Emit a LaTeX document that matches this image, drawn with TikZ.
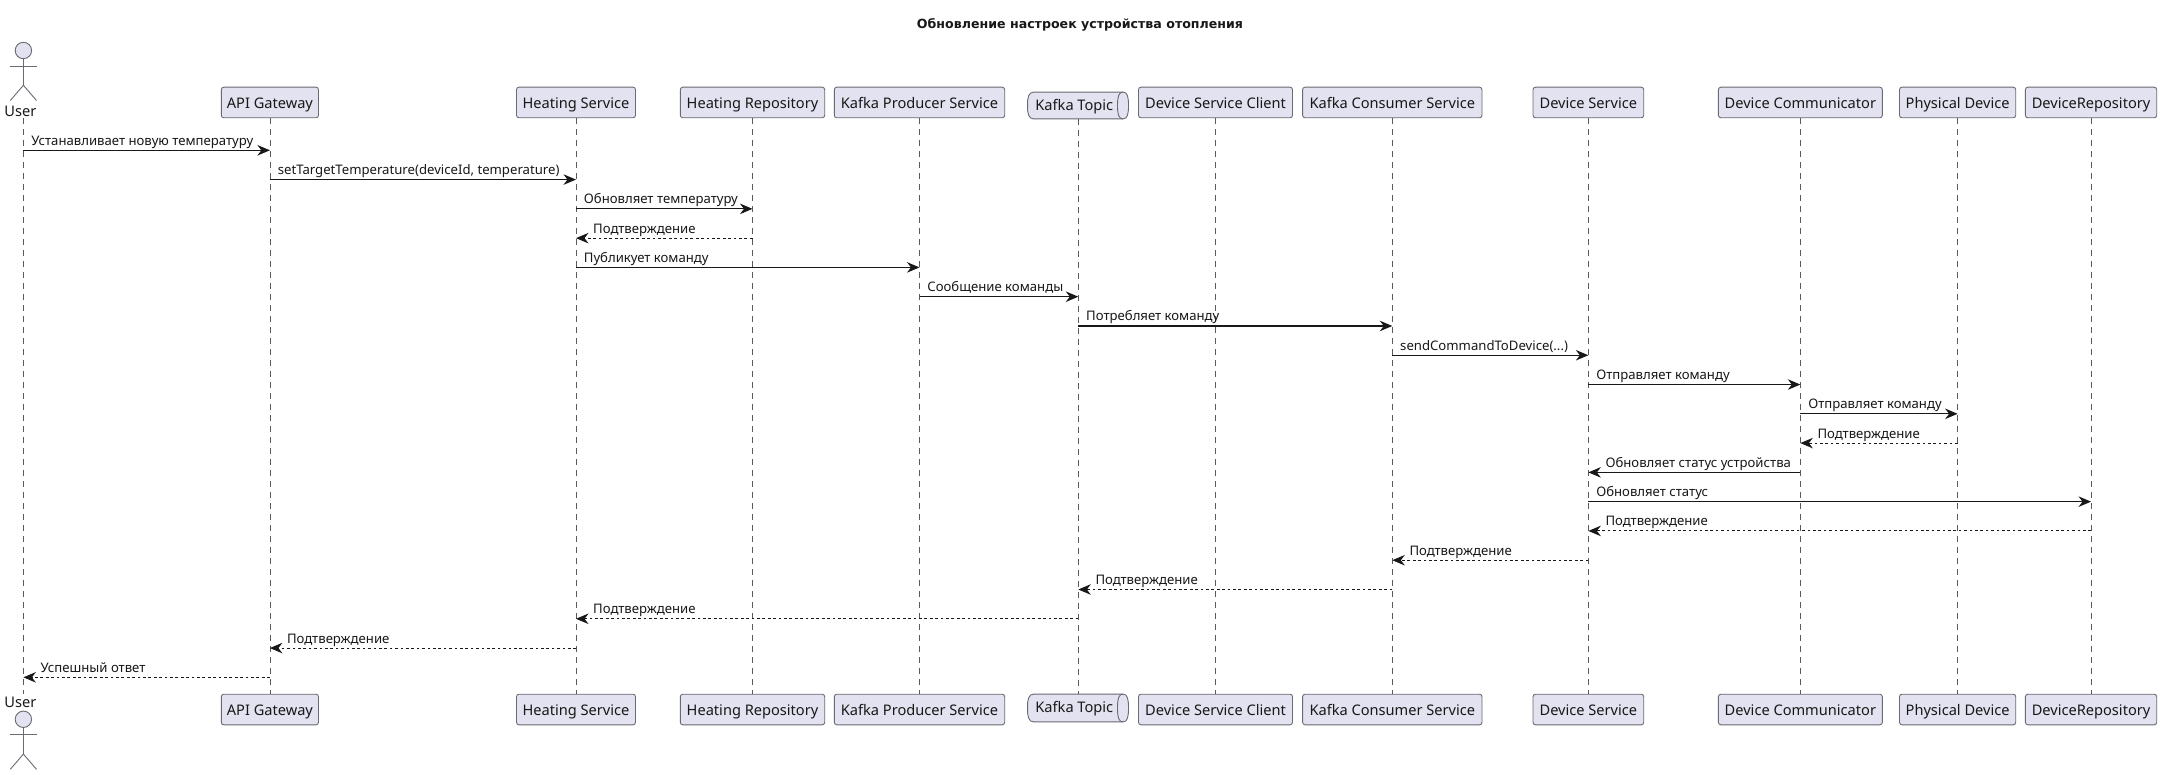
\documentclass[tikz,border=0pt]{standalone}
\usepackage{fontspec}
\setmainfont{Noto Sans}
\newfontfamily\titlefont{DejaVu Sans}
\usetikzlibrary{arrows.meta}
\definecolor{ink}{HTML}{181818}
\definecolor{boxfill}{HTML}{E2E2F0}
\definecolor{edge}{HTML}{6A6A72}
\definecolor{lifeink}{HTML}{5A5A5A}
\tikzset{
  part/.style={draw=edge,fill=boxfill,line width=0.9pt,rounded corners=2.5pt,minimum height=30.6pt,inner sep=0pt,text=ink,
    text height=13.6pt,text depth=2pt,font=\fontsize{14.6}{18}\selectfont},
  plain/.style={text=ink,inner sep=0pt,text height=13.6pt,text depth=2pt,font=\fontsize{14.6}{18}\selectfont},
  lbl/.style={text=ink,inner sep=0pt,font=\fontsize{13.15}{16}\selectfont,anchor=base west},
  life/.style={draw=lifeink,line width=0.55pt,dash pattern=on 5.8pt off 5.2pt},
  msg/.style={draw=ink,line width=1.1pt,-{Stealth[length=12.5pt,width=10.5pt,inset=4pt]}},
  ret/.style={draw=ink,line width=1pt,dash pattern=on 2.7pt off 2.7pt,-{Stealth[length=12.5pt,width=10.5pt,inset=4pt]}},
  act/.style={draw=edge,line width=0.9pt},
  queue/.style={draw=edge,fill=boxfill,line width=0.9pt},
}
\newcommand{\pbox}[5]{% name, left, right, ycentre, text
  \pgfmathsetmacro{\boxw}{#3-#2}
  \node[part,minimum width=\boxw pt] (#1) at ({(#2+#3)/2},#4) {#5};}
% style, from, to, row, text
\newcommand{\rmsg}[5]{%
  \pgfmathsetmacro{\rowy}{150.3+(#4-1)*29.28}
  \coordinate (ma) at (#2 |- 0,\rowy);
  \coordinate (mb) at (#3 |- 0,\rowy);
  \draw[#1] (ma) -- (mb);
  \node[lbl] at ([xshift=7.7pt,yshift=5pt]ma) {#5};}
\newcommand{\lmsg}[5]{%
  \pgfmathsetmacro{\rowy}{150.3+(#4-1)*29.28}
  \coordinate (ma) at (#2 |- 0,\rowy);
  \coordinate (mb) at (#3 |- 0,\rowy);
  \draw[#1] (ma) -- (mb);
  \node[lbl] at ([xshift=17pt,yshift=5pt]mb) {#5};}
% cylinder outline around a named node
\newcommand{\queueshape}[1]{%
  \draw[queue] ([xshift=5.5pt]#1.north west)
     .. controls ([xshift=1pt]#1.north west) and ([xshift=-1pt,yshift=-5pt]#1.north west) .. ([xshift=-0.5pt]#1.west)
     .. controls ([xshift=-1pt,yshift=5pt]#1.south west) and ([xshift=1pt]#1.south west) .. ([xshift=5.5pt]#1.south west)
     -- ([xshift=-5.5pt]#1.south east)
     .. controls ([xshift=-1pt]#1.south east) and ([yshift=5pt]#1.south east) .. (#1.east)
     .. controls ([yshift=-5pt]#1.north east) and ([xshift=-1pt]#1.north east) .. ([xshift=-5.5pt]#1.north east)
     -- cycle;
  \draw[queue,fill=none] ([xshift=-5.5pt]#1.north east)
     .. controls ([xshift=-10pt]#1.north east) and ([xshift=-11pt,yshift=-5pt]#1.north east) .. ([xshift=-11pt]#1.east)
     .. controls ([xshift=-11pt,yshift=5pt]#1.south east) and ([xshift=-10pt]#1.south east) .. ([xshift=-5.5pt]#1.south east);}
\newcommand{\actor}[2]{% head centre y, name
  \node[draw=edge,fill=boxfill,line width=0.9pt,circle,inner sep=0pt,minimum size=16.4pt] (#2) at (23.4,#1) {};
  \coordinate (#2s) at ([yshift=-15.6pt]#2.center);
  \coordinate (#2h) at ([yshift=-34.8pt]#2.center);
  \draw[act] (#2.south) -- (#2h);
  \draw[act] ([xshift=-13.1pt]#2s) -- ([xshift=13.1pt]#2s);
  \draw[act] ([xshift=-13.1pt,yshift=-15.2pt]#2h) -- (#2h) -- ([xshift=13.1pt,yshift=-15.2pt]#2h);}
\begin{document}
\begin{tikzpicture}[x=1pt,y=-1pt]
\useasboundingbox (0,0) rectangle (2161,775);
\fill[white] (0,0) rectangle (2161,775);
\node[text=ink,font=\titlefont\fontsize{12.6}{15}\selectfont\bfseries] (title) at (1080,24.5) {Обновление настроек устройства отопления};
% lifeline ends of the actor
\coordinate (user) at (23.4,118);
\coordinate (userb) at (23.4,694);
% invisible frames of the queue
\node[minimum width=100pt,minimum height=26.4pt,inner sep=0pt] (topic) at (1078.3,105.5) {};
\node[minimum width=100pt,minimum height=27.4pt,inner sep=0pt] (topicb) at (1078.3,708) {};
% top participants
\pbox{api}{221.3}{318.5}{102.5}{API Gateway}
\pbox{heat}{516.5}{635.5}{102.5}{Heating Service}
\pbox{hrepo}{680.3}{824.7}{102.5}{Heating Repository}
\pbox{prod}{834.3}{1004.7}{102.5}{Kafka Producer Service}
\pbox{dsc}{1138.5}{1292.5}{102.5}{Device Service Client}
\pbox{cons}{1302.6}{1482}{102.5}{Kafka Consumer Service}
\pbox{dev}{1533}{1643.7}{102.5}{Device Service}
\pbox{comm}{1718.4}{1882.3}{102.5}{Device Communicator}
\pbox{phys}{1899.5}{2015.7}{102.5}{Physical Device}
\pbox{drepo}{2025.4}{2156.7}{102.5}{DeviceRepository}
% bottom participants
\pbox{apib}{221.3}{318.5}{709.5}{API Gateway}
\pbox{heatb}{516.5}{635.5}{709.5}{Heating Service}
\pbox{hrepob}{680.3}{824.7}{709.5}{Heating Repository}
\pbox{prodb}{834.3}{1004.7}{709.5}{Kafka Producer Service}
\pbox{dscb}{1138.5}{1292.5}{709.5}{Device Service Client}
\pbox{consb}{1302.6}{1482}{709.5}{Kafka Consumer Service}
\pbox{devb}{1533}{1643.7}{709.5}{Device Service}
\pbox{commb}{1718.4}{1882.3}{709.5}{Device Communicator}
\pbox{physb}{1899.5}{2015.7}{709.5}{Physical Device}
\pbox{drepob}{2025.4}{2156.7}{709.5}{DeviceRepository}
% lifelines
\draw[life] (user) -- (userb);
\foreach \p in {api,heat,hrepo,prod,dsc,cons,dev,comm,phys,drepo}
  \draw[life] (\p.south) -- (\p b.north);
\draw[life] (topic.south) -- (topicb.north);
% queues
\queueshape{topic}
\queueshape{topicb}
\node[plain] (topiclabel) at (1074.3,105.2) {Kafka Topic};
\node[plain] (topicblabel) at (1074.3,707) {Kafka Topic};
% actors
\actor{50.5}{userhead}
\node[plain] (userlabel) at (20.4,110.6) {User};
\node[plain] (userblabel) at (20.4,701.6) {User};
\actor{719.3}{userheadb}
% messages
\rmsg{msg}{user}{api}{1}{Устанавливает новую температуру}
\rmsg{msg}{api}{heat}{2}{setTargetTemperature(deviceId, temperature)}
\rmsg{msg}{heat}{hrepo}{3}{Обновляет температуру}
\lmsg{ret}{hrepo}{heat}{4}{Подтверждение}
\rmsg{msg}{heat}{prod}{5}{Публикует команду}
\rmsg{msg}{prod}{topic}{6}{Сообщение команды}
\rmsg{msg}{topic}{cons}{7}{Потребляет команду}
\rmsg{msg}{cons}{dev}{8}{sendCommandToDevice(...)}
\rmsg{msg}{dev}{comm}{9}{Отправляет команду}
\rmsg{msg}{comm}{phys}{10}{Отправляет команду}
\lmsg{ret}{phys}{comm}{11}{Подтверждение}
\lmsg{msg}{comm}{dev}{12}{Обновляет статус устройства}
\rmsg{msg}{dev}{drepo}{13}{Обновляет статус}
\lmsg{ret}{drepo}{dev}{14}{Подтверждение}
\lmsg{ret}{dev}{cons}{15}{Подтверждение}
\lmsg{ret}{cons}{topic}{16}{Подтверждение}
\lmsg{ret}{topic}{heat}{17}{Подтверждение}
\lmsg{ret}{heat}{api}{18}{Подтверждение}
\lmsg{ret}{api}{user}{19}{Успешный ответ}
\end{tikzpicture}
\end{document}
